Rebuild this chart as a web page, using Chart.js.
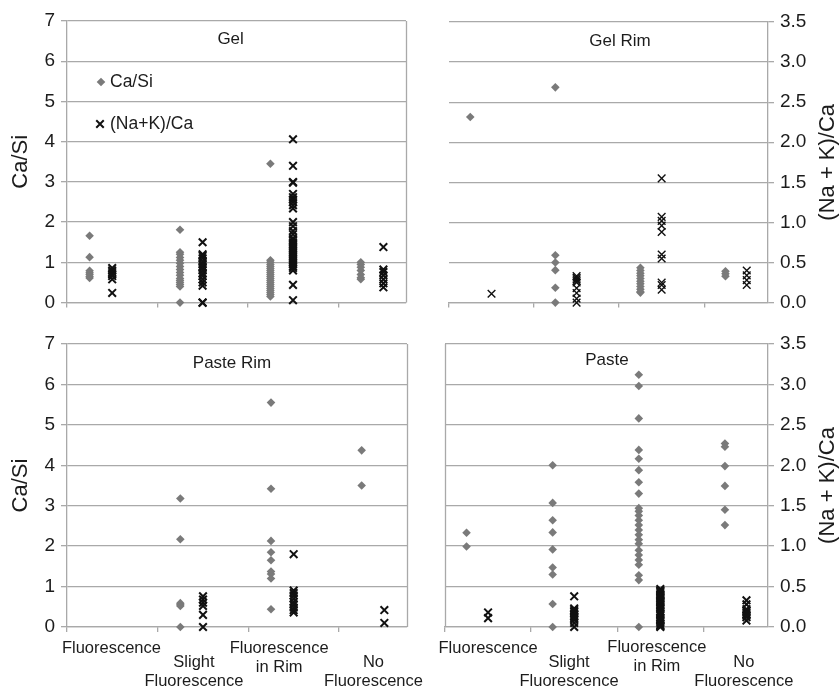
<!DOCTYPE html>
<html><head><meta charset="utf-8">
<script src="https://cdn.jsdelivr.net/npm/chart.js@4/dist/chart.umd.min.js"></script>
<style>
html,body{margin:0;padding:0;background:#fff;}
body{width:840px;height:688px;position:relative;overflow:hidden;}
canvas{position:absolute;}
</style></head><body>
<canvas id="pTL" style="left:0;top:0" width="420" height="320"></canvas>
<canvas id="pTR" style="left:420px;top:0" width="420" height="320"></canvas>
<canvas id="pBL" style="left:0;top:320px" width="440" height="368"></canvas>
<canvas id="pBR" style="left:420px;top:320px" width="420" height="368"></canvas>
<script>
// ---------- data ----------
const categories = ['Fluorescence', 'Slight Fluorescence', 'Fluorescence in Rim', 'No Fluorescence'];
const categoryLabelLines = [['Fluorescence'], ['Slight', 'Fluorescence'], ['Fluorescence', 'in Rim'], ['No', 'Fluorescence']];
const caSiTicks = [0, 1, 2, 3, 4, 5, 6, 7];
const nakCaTicks = [0, 0.5, 1, 1.5, 2, 2.5, 3, 3.5];
const seriesNames = ['Ca/Si', '(Na+K)/Ca'];

// Gel
const gelCaSi = [
  [1.66, 1.13, 0.79, 0.74, 0.70, 0.65, 0.61],
  [1.81, 1.25, 1.20, 1.12, 1.05, 0.98, 0.90, 0.82, 0.75, 0.68, 0.60, 0.55, 0.50, 0.45, 0.40, 0],
  [3.45, 1.05, 1.00, 0.95, 0.90, 0.85, 0.80, 0.75, 0.70, 0.65, 0.60, 0.55, 0.50, 0.45, 0.40, 0.35, 0.30, 0.25, 0.20, 0.15],
  [1.00, 0.95, 0.88, 0.80, 0.70, 0.62, 0.58]
];
const gelNaKCa = [
  [0.43, 0.40, 0.38, 0.35, 0.33, 0.29, 0.12],
  [0.75, 0.60, 0.58, 0.55, 0.51, 0.48, 0.45, 0.43, 0.40, 0.36, 0.33, 0.29, 0.25, 0.21, 0, 0],
  [2.03, 1.70, 1.50, 1.49, 1.35, 1.31, 1.28, 1.25, 1.21, 1.17, 1.00, 0.95, 0.89, 0.85, 0.80, 0.78, 0.75, 0.73, 0.70, 0.68, 0.65, 0.63, 0.60, 0.58, 0.55, 0.53, 0.50, 0.48, 0.45, 0.43, 0.40, 0.22, 0.03],
  [0.69, 0.41, 0.38, 0.34, 0.29, 0.24, 0.19]
];
// Gel Rim
const gelRimCaSi = [
  [4.63],
  [5.37, 1.18, 1.00, 0.81, 0.37, 0],
  [0.87, 0.80, 0.73, 0.67, 0.60, 0.53, 0.47, 0.40, 0.33, 0.27, 0.25],
  [0.78, 0.72, 0.66]
];
const gelRimNaKCa = [
  [0.11],
  [0.33, 0.31, 0.29, 0.27, 0.25, 0.18, 0.12, 0.05, 0],
  [1.55, 1.07, 1.02, 0.96, 0.88, 0.60, 0.55, 0.25, 0.22, 0.16],
  [0.40, 0.34, 0.28, 0.22]
];
// Paste Rim
const pasteRimCaSi = [
  [],
  [3.18, 2.17, 0.59, 0.55, 0.52, 0],
  [5.55, 3.42, 2.13, 1.85, 1.65, 1.37, 1.31, 1.20, 0.44],
  [4.37, 3.50]
];
const pasteRimNaKCa = [
  [],
  [0.38, 0.34, 0.30, 0.26, 0.15, 0],
  [0.90, 0.45, 0.42, 0.39, 0.35, 0.31, 0.28, 0.24, 0.21, 0.18],
  [0.21, 0.05]
];
// Paste
const pasteCaSi = [
  [2.33, 1.99],
  [4.00, 3.07, 2.64, 2.34, 1.92, 1.47, 1.30, 0.57, 0],
  [6.24, 5.96, 5.16, 4.38, 4.16, 3.88, 3.58, 3.30, 2.94, 2.86, 2.76, 2.64, 2.52, 2.40, 2.28, 2.16, 2.06, 1.90, 1.78, 1.66, 1.54, 1.28, 1.16, 0],
  [4.54, 4.46, 3.98, 3.49, 2.90, 2.52]
];
const pasteNaKCa = [
  [0.18, 0.11],
  [0.38, 0.23, 0.21, 0.19, 0.17, 0.15, 0.13, 0.11, 0.09, 0.05, 0],
  [0.47, 0.45, 0.44, 0.42, 0.40, 0.39, 0.37, 0.35, 0.33, 0.31, 0.30, 0.28, 0.26, 0.24, 0.22, 0.19, 0.17, 0.15, 0.12, 0.10, 0.08, 0.06, 0.04, 0.02, 0.01, 0],
  [0.33, 0.28, 0.22, 0.20, 0.18, 0.16, 0.14, 0.12, 0.08]
];

// ---------- style / layout ----------
const FONT = "'Liberation Sans', Arial, Helvetica, sans-serif";
const GRID = '#a9a9a9';
const TEXT = '#1c1c1c';
const DIAMOND = '#7a7a7a';
const CROSS = '#111111';
const DIAMOND_OFFSET = 0.25;
const CROSS_OFFSET = 0.5;
Chart.defaults.font.family = FONT;
Chart.defaults.color = TEXT;

function makePanel(id, cfg) {
  const diamonds = [], crosses = [];
  cfg.caSi.forEach((vals, i) => vals.forEach(v => diamonds.push({x: i + DIAMOND_OFFSET, y: v})));
  cfg.nak.forEach((vals, i) => vals.forEach(v => crosses.push({x: i + CROSS_OFFSET, y: v})));

  const decor = {
    id: 'decor_' + id,
    beforeDatasetsDraw(chart) {
      const {ctx, chartArea: a} = chart;
      ctx.save();
      ctx.strokeStyle = GRID; ctx.lineWidth = 1.3;
      cfg.frame.forEach(side => {
        const x = Math.round(side === 'right' ? a.right : a.left) + 0.5;
        ctx.beginPath(); ctx.moveTo(x, a.top); ctx.lineTo(x, a.bottom); ctx.stroke();
      });
      ctx.restore();
    },
    afterDraw(chart) {
      const {ctx, chartArea: a, scales} = chart;
      const xs = scales.x;
      ctx.save();
      ctx.fillStyle = TEXT;
      // panel title
      ctx.font = '17px ' + FONT;
      ctx.textAlign = 'center'; ctx.textBaseline = 'middle';
      ctx.fillText(cfg.title, xs.getPixelForValue(cfg.titleX), a.top + cfg.titleDy);
      // legend
      if (cfg.legend) {
        const lx = a.left + 34, ly1 = a.top + 61, ly2 = a.top + 103;
        ctx.fillStyle = DIAMOND; ctx.beginPath();
        ctx.moveTo(lx, ly1 - 4.3); ctx.lineTo(lx + 4.3, ly1); ctx.lineTo(lx, ly1 + 4.3); ctx.lineTo(lx - 4.3, ly1); ctx.closePath(); ctx.fill();
        ctx.strokeStyle = CROSS; ctx.lineWidth = 2;
        Chart.helpers.drawPoint(ctx, {pointStyle: 'crossRot', radius: 5.3, borderWidth: 2}, lx - 1, ly2);
        ctx.fillStyle = TEXT; ctx.font = '17.5px ' + FONT; ctx.textAlign = 'left';
        ctx.fillText(seriesNames[0], lx + 9, ly1);
        ctx.fillText(seriesNames[1], lx + 9, ly2);
      }
      // right axis title (reads bottom to top)
      if (cfg.rightTitle) {
        ctx.save();
        ctx.translate(408, (a.top + a.bottom) / 2);
        ctx.rotate(-Math.PI / 2);
        ctx.font = '22px ' + FONT; ctx.textAlign = 'center'; ctx.textBaseline = 'middle';
        ctx.fillText(cfg.rightTitle, 0, 0);
        ctx.restore();
      }
      // category labels
      if (cfg.catX) {
        ctx.font = '16.5px ' + FONT; ctx.textAlign = 'center'; ctx.textBaseline = 'middle';
        categoryLabelLines.forEach((lines, i) => {
          const cx = xs.getPixelForValue(cfg.catX[i]);
          lines.forEach((t, k) => ctx.fillText(t, cx, a.bottom + cfg.catDy[i] + k * 19));
        });
      }
      ctx.restore();
    }
  };

  new Chart(document.getElementById(id), {
    type: 'scatter',
    data: {datasets: [
      {label: seriesNames[0], data: diamonds, yAxisID: 'y', pointStyle: 'rectRot', pointRadius: 4.3,
       backgroundColor: DIAMOND, borderColor: DIAMOND, borderWidth: 0, order: 2, clip: false},
      {label: seriesNames[1], data: crosses, yAxisID: 'y2', pointStyle: 'crossRot', pointRadius: 5.4,
       backgroundColor: CROSS, borderColor: CROSS, borderWidth: cfg.crossWidth, order: 1, clip: false}
    ]},
    options: {
      responsive: false, animation: false, events: [],
      layout: {autoPadding: false, padding: cfg.padding},
      plugins: {legend: {display: false}, tooltip: {enabled: false}},
      scales: {
        x: {
          type: 'linear', min: 0, max: 3.75,
          afterBuildTicks: s => { s.ticks = categories.map((c, i) => ({value: i})); },
          afterFit: s => { s.height = cfg.xHeight; },
          ticks: {display: false},
          grid: {drawOnChartArea: false, drawTicks: true, tickLength: 5, color: GRID, lineWidth: 1.3},
          border: {display: true, color: GRID, width: 1.3}
        },
        y: {
          type: 'linear', position: 'left', min: 0, max: 7, display: cfg.left,
          afterBuildTicks: s => { s.ticks = caSiTicks.map(v => ({value: v})); },
          afterFit: s => { s.width = cfg.left ? 67 : 0; },
          ticks: {font: {size: 19}, color: TEXT, padding: 6, callback: v => String(v)},
          grid: {color: GRID, lineWidth: 1.3, tickLength: 6},
          border: {display: true, color: GRID, width: 1.3},
          title: {display: true, text: 'Ca/Si', font: {size: 22}, color: TEXT, padding: {top: 8, bottom: 0}}
        },
        y2: {
          type: 'linear', position: 'right', min: 0, max: 3.5, display: !cfg.left,
          afterBuildTicks: s => { s.ticks = nakCaTicks.map(v => ({value: v})); },
          afterFit: s => { s.width = cfg.left ? 0 : 72; },
          ticks: {font: {size: 19}, color: TEXT, padding: 6, callback: v => Number(v).toFixed(1)},
          grid: {color: GRID, lineWidth: 1.3, tickLength: 6},
          border: {display: true, color: GRID, width: 1.3}
        }
      }
    },
    plugins: [decor]
  });
}

makePanel('pTL', {caSi: gelCaSi, nak: gelNaKCa, left: true, title: 'Gel', titleX: 1.81, titleDy: 18,
  legend: true, frame: ['right'], padding: {top: 21, right: 14, left: 0, bottom: 0}, xHeight: 16, crossWidth: 2});
makePanel('pTR', {caSi: gelRimCaSi, nak: gelRimNaKCa, left: false, title: 'Gel Rim', titleX: 2.01, titleDy: 19,
  rightTitle: '(Na + K)/Ca', frame: [], padding: {top: 22, right: 0, left: 29, bottom: 0}, xHeight: 17, crossWidth: 1.4});
makePanel('pBL', {caSi: pasteRimCaSi, nak: pasteRimNaKCa, left: true, title: 'Paste Rim', titleX: 1.82, titleDy: 19,
  frame: ['right'], padding: {top: 24, right: 33, left: 0, bottom: 0}, xHeight: 61, crossWidth: 2,
  catX: [0.49, 1.40, 2.34, 3.38], catDy: [21, 35, 21, 35]});
makePanel('pBR', {caSi: pasteCaSi, nak: pasteNaKCa, left: false, title: 'Paste', titleX: 1.88, titleDy: 16,
  rightTitle: '(Na + K)/Ca', frame: ['left'], padding: {top: 24, right: 0, left: 25, bottom: 0}, xHeight: 61, crossWidth: 2,
  catX: [0.50, 1.44, 2.46, 3.47], catDy: [21, 35, 20, 35]});
</script>
</body></html>
